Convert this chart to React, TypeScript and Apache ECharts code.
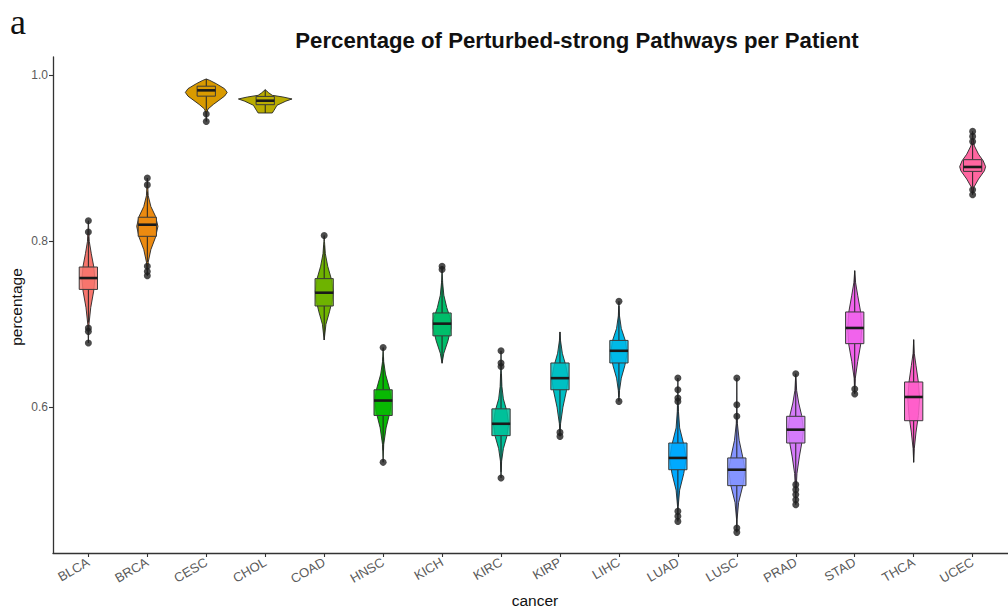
import React, { useEffect, useRef } from "react";
import * as echarts from "echarts";

// Cancer types along the x axis
const categories = [
  "BLCA", "BRCA", "CESC", "CHOL", "COAD", "HNSC", "KICH", "KIRC",
  "KIRP", "LIHC", "LUAD", "LUSC", "PRAD", "STAD", "THCA", "UCEC",
];

// Fill colour per cancer type (hue wheel)
const colors = [
  "#F8766D", "#EC8A10", "#D99A00", "#B9AC00", "#6FB300", "#08B804",
  "#00BE6A", "#00C19A", "#00BFC4", "#00B8E7", "#00A9FF", "#8494FF",
  "#D57BFA", "#F163EC", "#FF5FCB", "#FF66A0",
];

// Box statistics per cancer type
const q1 = [0.742, 0.806, 0.975, 0.9647, 0.722, 0.59, 0.686, 0.5657, 0.621, 0.6533, 0.5246, 0.5054, 0.5568, 0.6766, 0.5837, 0.8843];
const medians = [0.7557, 0.82, 0.982, 0.9695, 0.738, 0.608, 0.7007, 0.58, 0.635, 0.668, 0.5388, 0.5246, 0.5729, 0.6955, 0.6123, 0.8896];
const q3 = [0.769, 0.829, 0.987, 0.9747, 0.755, 0.621, 0.7136, 0.598, 0.6533, 0.6805, 0.5568, 0.5388, 0.589, 0.7148, 0.6304, 0.8984];
const whiskerLow = [0.702, 0.775, 0.958, 0.9547, 0.681, 0.548, 0.653, 0.522, 0.573, 0.612, 0.478, 0.458, 0.51, 0.625, 0.5335, 0.866];
const whiskerHigh = [0.806, 0.86, 0.9957, 0.9828, 0.795, 0.66, 0.752, 0.64, 0.6907, 0.722, 0.602, 0.585, 0.636, 0.7646, 0.6814, 0.918];

// Points beyond the whiskers
const outliers: number[][] = [
  [0.8248, 0.8112, 0.6955, 0.6914, 0.6774],
  [0.8763, 0.868, 0.77, 0.7637, 0.7585],
  [0.9535, 0.9445],
  [],
  [0.807],
  [0.672, 0.5335],
  [0.77, 0.766],
  [0.668, 0.6533, 0.649, 0.5147],
  [0.5696, 0.5648],
  [0.7276, 0.607],
  [0.6352, 0.621, 0.611, 0.607, 0.4744, 0.4684, 0.4623],
  [0.6352, 0.603, 0.589, 0.4544, 0.4491],
  [0.6404, 0.5066, 0.5006, 0.4946, 0.4885, 0.4825],
  [0.622, 0.616],
  [],
  [0.9325, 0.9265, 0.9204, 0.8622, 0.8562],
];

// Violin outlines: [percentage, half width in category units], bottom to top
const violinProfiles: [number, number][][] = [
  [[0.6774, 0], [0.7, 0.01], [0.72, 0.04], [0.74, 0.09], [0.755, 0.11], [0.77, 0.09], [0.785, 0.05], [0.8, 0.015], [0.8248, 0]],
  [[0.7585, 0], [0.775, 0.015], [0.79, 0.06], [0.805, 0.14], [0.818, 0.18], [0.83, 0.14], [0.842, 0.06], [0.855, 0.015], [0.8763, 0]],
  [[0.9445, 0], [0.955, 0.008], [0.9595, 0.03], [0.965, 0.12], [0.975, 0.31], [0.9795, 0.355], [0.984, 0.31], [0.99, 0.17], [0.994, 0.06], [0.9957, 0]],
  [[0.9547, 0.12], [0.958, 0.15], [0.964, 0.2], [0.969, 0.35], [0.9716, 0.455], [0.974, 0.3], [0.976, 0.12], [0.979, 0.06], [0.9828, 0]],
  [[0.681, 0], [0.7, 0.03], [0.715, 0.09], [0.73, 0.14], [0.74, 0.15], [0.755, 0.12], [0.77, 0.06], [0.785, 0.02], [0.8, 0.005], [0.807, 0]],
  [[0.5335, 0], [0.555, 0.01], [0.575, 0.05], [0.595, 0.12], [0.608, 0.14], [0.622, 0.11], [0.64, 0.04], [0.655, 0.01], [0.672, 0]],
  [[0.653, 0], [0.665, 0.03], [0.68, 0.1], [0.695, 0.15], [0.705, 0.15], [0.72, 0.08], [0.735, 0.03], [0.75, 0.01], [0.77, 0]],
  [[0.5147, 0], [0.535, 0.01], [0.55, 0.04], [0.565, 0.1], [0.58, 0.13], [0.595, 0.1], [0.61, 0.04], [0.625, 0.015], [0.645, 0.005], [0.668, 0]],
  [[0.5648, 0], [0.58, 0.01], [0.6, 0.05], [0.62, 0.11], [0.635, 0.14], [0.65, 0.1], [0.665, 0.04], [0.68, 0.01], [0.6907, 0]],
  [[0.607, 0], [0.62, 0.01], [0.635, 0.04], [0.65, 0.1], [0.665, 0.14], [0.68, 0.11], [0.695, 0.04], [0.71, 0.01], [0.7276, 0]],
  [[0.4623, 0], [0.48, 0.005], [0.5, 0.03], [0.52, 0.1], [0.538, 0.14], [0.555, 0.1], [0.575, 0.03], [0.595, 0.01], [0.615, 0.003], [0.6352, 0]],
  [[0.4491, 0], [0.465, 0.005], [0.485, 0.03], [0.505, 0.1], [0.524, 0.14], [0.54, 0.1], [0.56, 0.04], [0.58, 0.01], [0.6, 0.003], [0.6352, 0]],
  [[0.4825, 0], [0.5, 0.005], [0.52, 0.02], [0.54, 0.06], [0.56, 0.11], [0.573, 0.13], [0.59, 0.1], [0.605, 0.05], [0.62, 0.015], [0.6404, 0]],
  [[0.616, 0], [0.635, 0.01], [0.655, 0.05], [0.675, 0.1], [0.695, 0.12], [0.715, 0.1], [0.735, 0.05], [0.75, 0.015], [0.7646, 0]],
  [[0.5335, 0], [0.55, 0.01], [0.57, 0.04], [0.59, 0.08], [0.61, 0.1], [0.63, 0.08], [0.65, 0.04], [0.665, 0.01], [0.6814, 0]],
  [[0.8562, 0], [0.865, 0.02], [0.875, 0.1], [0.885, 0.2], [0.89, 0.22], [0.897, 0.18], [0.905, 0.1], [0.915, 0.03], [0.925, 0.005], [0.9325, 0]],
];

const yTicks = [0.6, 0.8, 1.0];

const FONT = "'Liberation Sans', Arial, Helvetica, sans-serif";
const BOX_HALF = 0.155;

function withAlpha(hex: string, a: number) {
  const n = parseInt(hex.slice(1), 16);
  return `rgba(${(n >> 16) & 255},${(n >> 8) & 255},${n & 255},${a})`;
}

export default function App() {
  const ref = useRef<HTMLDivElement>(null);

  useEffect(() => {
    if (!ref.current) return;
    const chart = echarts.init(ref.current, null, { renderer: "svg" });
    const positions = categories.map((_, i) => i + 1);

    const option: any = {
      animation: false,
      backgroundColor: "#ffffff",
      grid: { left: 53, top: 57, width: 961, height: 496, containLabel: false },
      xAxis: {
        type: "value",
        min: 0.4,
        max: 16.6,
        axisLine: { onZero: false, lineStyle: { color: "#333333", width: 1.3 } },
        axisTick: { customValues: positions, length: 4, lineStyle: { color: "#333333", width: 1.1 } },
        axisLabel: {
          customValues: positions,
          formatter: (v: number) => categories[Math.round(v) - 1],
          rotate: 30,
          margin: 8,
          color: "#5a5a5a",
          fontSize: 13,
          fontFamily: FONT,
        },
        splitLine: { show: false },
      },
      yAxis: {
        type: "value",
        min: 0.4242,
        max: 1.0222,
        axisLine: { onZero: false, lineStyle: { color: "#333333", width: 1.3 } },
        axisTick: { customValues: yTicks, length: 4, lineStyle: { color: "#333333", width: 1.1 } },
        axisLabel: {
          customValues: yTicks,
          formatter: (v: number) => v.toFixed(1),
          margin: 5,
          color: "#5a5a5a",
          fontSize: 12,
          fontFamily: FONT,
        },
        splitLine: { show: false },
      },
      graphic: [
        {
          type: "text",
          x: 10,
          y: 4,
          style: { text: "a", font: "36px 'Liberation Serif', 'Times New Roman', serif", fill: "#111111", verticalAlign: "top" },
        },
        {
          type: "text",
          x: 577,
          y: 40,
          style: {
            text: "Percentage of Perturbed-strong Pathways per Patient",
            font: `bold 22.2px ${FONT}`,
            fill: "#111111",
            align: "center",
            verticalAlign: "middle",
          },
        },
        {
          type: "text",
          x: 16,
          y: 307,
          rotation: Math.PI / 2,
          style: { text: "percentage", font: `15.5px ${FONT}`, fill: "#111111", align: "center", verticalAlign: "middle" },
        },
        {
          type: "text",
          x: 535,
          y: 600,
          style: { text: "cancer", font: `15.5px ${FONT}`, fill: "#111111", align: "center", verticalAlign: "middle" },
        },
      ],
      series: [
        {
          type: "custom",
          name: "violin",
          clip: false,
          encode: { x: 0, y: 1 },
          data: categories.map((_, i) => [i + 1, medians[i]]),
          renderItem: (params: any, api: any) => {
            const i = params.dataIndex;
            const x = api.value(0);
            const prof = violinProfiles[i];
            const pts: number[][] = [];
            for (const [v, w] of prof) pts.push(api.coord([x - w, v]));
            for (let k = prof.length - 1; k >= 0; k--) {
              const [v, w] = prof[k];
              pts.push(api.coord([x + w, v]));
            }
            return {
              type: "polygon",
              shape: { points: pts },
              style: { fill: colors[i], stroke: "#262626", lineWidth: 0.9, lineJoin: "round" },
            };
          },
        },
        {
          type: "custom",
          name: "box",
          clip: false,
          encode: { x: 0, y: 1 },
          data: categories.map((_, i) => [i + 1, medians[i]]),
          renderItem: (params: any, api: any) => {
            const i = params.dataIndex;
            const x = api.value(0);
            const [xl, yTop] = api.coord([x - BOX_HALF, q3[i]]);
            const [xr, yBot] = api.coord([x + BOX_HALF, q1[i]]);
            const [xc, yMed] = api.coord([x, medians[i]]);
            const yLo = api.coord([x, whiskerLow[i]])[1];
            const yHi = api.coord([x, whiskerHigh[i]])[1];
            const whisker = { stroke: "#222222", lineWidth: 1 };
            return {
              type: "group",
              children: [
                { type: "line", shape: { x1: xc, y1: yBot, x2: xc, y2: yLo }, style: whisker },
                { type: "line", shape: { x1: xc, y1: yTop, x2: xc, y2: yHi }, style: whisker },
                {
                  type: "rect",
                  shape: { x: xl, y: yTop, width: xr - xl, height: yBot - yTop },
                  style: { fill: withAlpha(colors[i], 0.85), stroke: "#3a3a3a", lineWidth: 1 },
                },
                {
                  type: "line",
                  shape: { x1: xl, y1: yMed, x2: xr, y2: yMed },
                  style: { stroke: "#1a1a1a", lineWidth: 2.6 },
                },
              ],
            };
          },
        },
        {
          type: "scatter",
          name: "outliers",
          symbol: "circle",
          symbolSize: 7,
          itemStyle: { color: "#1f1f1f" },
          data: outliers.flatMap((vals, i) => vals.map((v) => [i + 1, v])),
        },
      ],
    };

    chart.setOption(option);
    return () => chart.dispose();
  }, []);

  return (
    <div
      ref={ref}
      style={{ position: "absolute", left: 0, top: 0, width: 1008, height: 613, background: "#ffffff" }}
    />
  );
}
